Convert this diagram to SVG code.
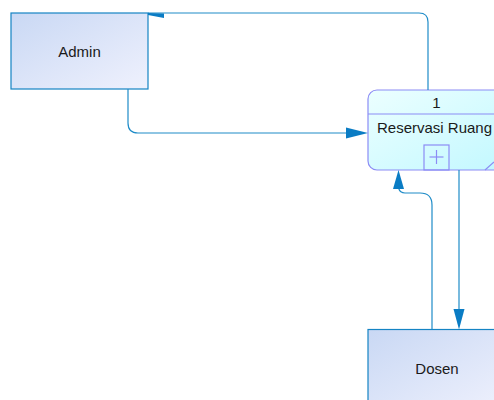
<svg xmlns="http://www.w3.org/2000/svg" width="494" height="400" viewBox="0 0 494 400">
<defs>
<linearGradient id="ext" x1="0" y1="0" x2="1" y2="1">
<stop offset="0" stop-color="#c9d8f4"/>
<stop offset="1" stop-color="#eff1fd"/>
</linearGradient>
<linearGradient id="proc" x1="0" y1="0" x2="1" y2="1">
<stop offset="0" stop-color="#ecffff"/>
<stop offset="1" stop-color="#c2f8ff"/>
</linearGradient>
<style>
.ent{fill:url(#ext);stroke:#1584c4;stroke-width:1.2}
.prc{fill:url(#proc);stroke:#8c8cf5;stroke-width:1.2}
.pl{fill:none;stroke:#8c8cf5;stroke-width:1.2}
.con{fill:none;stroke:#1f8cc8;stroke-width:1.2}
.ah{fill:#0a7cc4}
text{font-family:"Liberation Sans",Arial,sans-serif;font-size:15px;fill:#1a1a1a}
</style>
</defs>
<g id="admin">
<rect class="ent" x="11" y="13" width="137" height="76"/>
<text x="79.5" y="57" text-anchor="middle">Admin</text>
</g>
<g id="process1">
<rect class="prc" x="368" y="90" width="140" height="80" rx="9" ry="9"/>
<line class="pl" x1="368" y1="114" x2="494" y2="114"/>
<text x="436.5" y="107.5" text-anchor="middle">1</text>
<text x="377" y="132.5">Reservasi Ruang</text>
<rect class="pl" x="424" y="145" width="25" height="25"/>
<line class="pl" x1="436.5" y1="150" x2="436.5" y2="164"/>
<line class="pl" x1="429.5" y1="157" x2="443.5" y2="157"/>
<line class="pl" x1="485" y1="170" x2="494" y2="162"/>
</g>
<g id="dosen">
<rect class="ent" x="368" y="329.5" width="140" height="80"/>
<text x="437" y="374" text-anchor="middle">Dosen</text>
</g>
<g id="connectors">
<path class="con" d="M428,90 V22 Q428,13 419,13 H148"/>
<polygon class="ah" points="148,13 164,13.5 164,18 148,15"/>
<path class="con" d="M128,89 V123 Q128,133 138,133 H350"/>
<polygon class="ah" points="368,133 346,127.5 346,138.5"/>
<path class="con" d="M432,329 V205 Q432,193 420,193 H405 Q400,193 398.5,188"/>
<polygon class="ah" points="398.5,170 393,189 404,189"/>
<path class="con" d="M459,170 V312"/>
<polygon class="ah" points="459,329.5 453.5,309 464.5,309"/>
</g>
</svg>
